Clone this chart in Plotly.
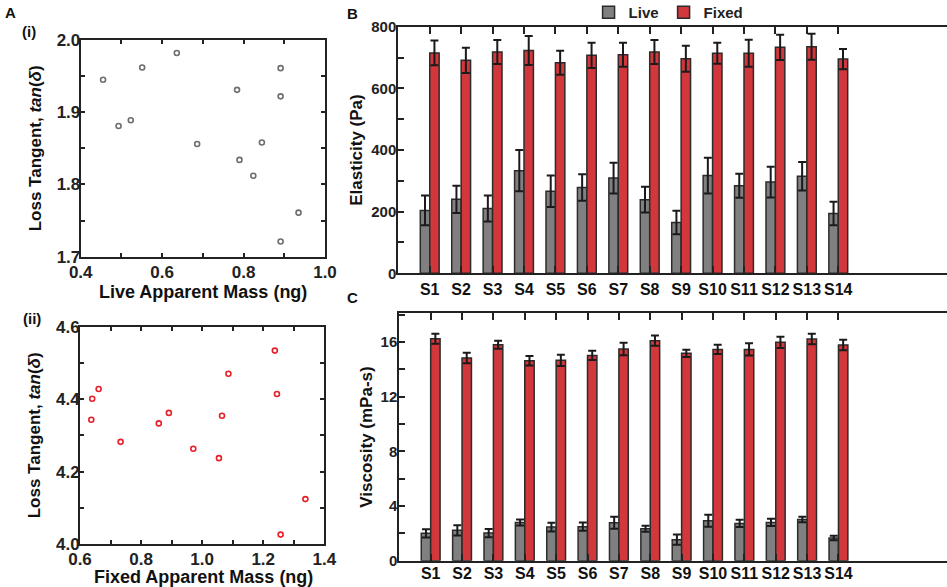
import plotly.graph_objects as go

# ---------------- data ----------------
live_mass = [0.455, 0.493, 0.523, 0.551, 0.636, 0.686, 0.784, 0.790, 0.824, 0.845, 0.891, 0.891, 0.935, 0.891]
live_tan = [1.945, 1.881, 1.889, 1.962, 1.982, 1.856, 1.931, 1.834, 1.812, 1.858, 1.961, 1.922, 1.761, 1.721]

fixed_mass = [0.637, 0.640, 0.661, 0.733, 0.858, 0.891, 0.971, 1.055, 1.065, 1.086, 1.238, 1.245, 1.257, 1.338]
fixed_tan = [4.343, 4.401, 4.428, 4.282, 4.333, 4.362, 4.263, 4.237, 4.354, 4.470, 4.534, 4.414, 4.026, 4.124]

samples = ["S1", "S2", "S3", "S4", "S5", "S6", "S7", "S8", "S9", "S10", "S11", "S12", "S13", "S14"]

elast_live = [204, 240, 210, 333, 266, 278, 309, 239, 165, 317, 284, 296, 315, 194]
elast_live_err = [48, 44, 42, 67, 51, 43, 50, 42, 38, 58, 39, 50, 46, 38]
elast_fixed = [715, 691, 718, 723, 683, 707, 709, 718, 696, 714, 714, 733, 735, 695]
elast_fixed_err = [40, 41, 39, 47, 39, 41, 39, 39, 42, 34, 44, 41, 42, 33]

visc_live = [2.0, 2.22, 2.02, 2.80, 2.46, 2.49, 2.78, 2.34, 1.54, 2.93, 2.73, 2.80, 3.02, 1.66]
visc_live_err = [0.3, 0.37, 0.3, 0.22, 0.32, 0.3, 0.44, 0.22, 0.37, 0.44, 0.27, 0.27, 0.2, 0.17]
visc_fixed = [16.24, 14.83, 15.80, 14.63, 14.66, 15.02, 15.49, 16.10, 15.17, 15.46, 15.46, 15.98, 16.22, 15.78]
visc_fixed_err = [0.37, 0.39, 0.3, 0.34, 0.41, 0.34, 0.46, 0.37, 0.27, 0.34, 0.44, 0.41, 0.39, 0.39]

# ---------------- style ----------------
FONT = "Liberation Sans, Arial, Helvetica, sans-serif"
AX = "#222222"
GRAY = "#808080"
RED = "#d1373b"
OUTLINE = "#2b2b2b"

W, H = 947, 587


def xdom(x0, x1):
    return [x0 / W, min(x1 / W, 1.0)]


def ydom(top, bottom):
    return [(H - bottom) / H, (H - top) / H]


fig = go.Figure()

# Panel A(i)
fig.add_trace(go.Scatter(
    x=live_mass, y=live_tan, mode="markers", showlegend=False,
    marker=dict(symbol="circle-open", size=5, color="#6e6e6e", line=dict(width=1.6)),
    xaxis="x", yaxis="y"))

# Panel A(ii)
fig.add_trace(go.Scatter(
    x=fixed_mass, y=fixed_tan, mode="markers", showlegend=False,
    marker=dict(symbol="circle-open", size=5, color="#e8202a", line=dict(width=1.6)),
    xaxis="x2", yaxis="y2"))

# Panel B
err_style = dict(type="data", color="#1a1a1a", thickness=2, width=4)
fig.add_trace(go.Bar(
    x=samples, y=elast_live, name="Live", marker=dict(color=GRAY, line=dict(color=OUTLINE, width=1.5)),
    error_y=dict(array=elast_live_err, **err_style), xaxis="x3", yaxis="y3", legendgroup="live"))
fig.add_trace(go.Bar(
    x=samples, y=elast_fixed, name="Fixed", marker=dict(color=RED, line=dict(color=OUTLINE, width=1.5)),
    error_y=dict(array=elast_fixed_err, **err_style), xaxis="x3", yaxis="y3", legendgroup="fixed"))

# Panel C
fig.add_trace(go.Bar(
    x=samples, y=visc_live, name="Live", showlegend=False,
    marker=dict(color=GRAY, line=dict(color=OUTLINE, width=1.5)),
    error_y=dict(array=visc_live_err, **err_style), xaxis="x4", yaxis="y4", legendgroup="live"))
fig.add_trace(go.Bar(
    x=samples, y=visc_fixed, name="Fixed", showlegend=False,
    marker=dict(color=RED, line=dict(color=OUTLINE, width=1.5)),
    error_y=dict(array=visc_fixed_err, **err_style), xaxis="x4", yaxis="y4", legendgroup="fixed"))

tickfont_a = dict(family=FONT, size=17, color="#222222", weight="bold")
tickfont_b = dict(family=FONT, size=15, color="#222222", weight="bold")
catfont = dict(family=FONT, size=16, color="#111111", weight="bold")
titlefont = dict(family=FONT, size=17, color="#111111", weight="bold")
xtitlefont = dict(family=FONT, size=18, color="#111111", weight="bold")


def scatter_axis(dom, rng, dtick, minor, anchor, title=None, standoff=0, lblshift=0):
    d = dict(domain=dom, range=rng, dtick=dtick, tick0=rng[0], tickformat=".1f",
             showline=True, linecolor=AX, linewidth=2, mirror="ticks",
             ticks="inside", ticklen=4, tickwidth=1.5, tickcolor=AX,
             minor=dict(dtick=minor, tick0=rng[0], ticks="inside", ticklen=4, tickwidth=1.5, tickcolor=AX),
             showgrid=False, zeroline=False, tickfont=tickfont_a, anchor=anchor, automargin=False,
             ticklabelstandoff=lblshift)
    if title:
        d["title"] = dict(text=title, font=titlefont, standoff=standoff)
    return d


def cat_axis(dom, anchor, lblshift=0):
    return dict(domain=dom, range=[-1.0, 16.46], anchor=anchor, automargin=False,
                showline=True, linecolor=AX, linewidth=2, mirror="ticks",
                ticks="inside", ticklen=7, tickwidth=2, tickcolor=AX, ticklabelstandoff=lblshift,
                tickangle=0, tickfont=catfont, showgrid=False, zeroline=False)


def bar_yaxis(dom, anchor, rng, dtick, minor, title):
    return dict(domain=dom, range=rng, dtick=dtick, anchor=anchor, automargin=False,
                showline=True, linecolor=AX, linewidth=2, mirror=False,
                ticks="inside", ticklen=6, tickwidth=1.5, tickcolor=AX,
                minor=dict(dtick=minor, ticks="inside", ticklen=6, tickwidth=1.5, tickcolor=AX),
                tickfont=tickfont_b, showgrid=False, zeroline=False, ticklabelstandoff=-3,
                title=dict(text=title, font=titlefont, standoff=4))


TAN_TITLE = "Loss Tangent, <i>tan</i>(<i>δ</i>)"

fig.update_layout(
    width=W, height=H,
    margin=dict(l=0, r=0, t=0, b=0, autoexpand=False),
    paper_bgcolor="white", plot_bgcolor="white",
    barmode="group", bargap=0.4, bargroupgap=0,
    font=dict(family=FONT),
    xaxis=scatter_axis(xdom(80.7, 325), [0.4, 1.0], 0.2, 0.1, "y", lblshift=-1),
    yaxis=scatter_axis(ydom(40, 256.7), [1.7, 2.0], 0.1, 0.05, "x", TAN_TITLE, 11, -5),
    xaxis2=scatter_axis(xdom(80, 324.3), [0.6, 1.4], 0.2, 0.1, "y2", lblshift=-1),
    yaxis2=scatter_axis(ydom(326.7, 544), [4.0, 4.6], 0.2, 0.1, "x2", TAN_TITLE, 11, -5),
    xaxis3=cat_axis(xdom(398.3, 947), "y3"),
    yaxis3=bar_yaxis(ydom(26.7, 273.3), "x3", [0, 800], 200, 100, "Elasticity (Pa)"),
    xaxis4=cat_axis(xdom(399.3, 947), "y4", -3),
    yaxis4=bar_yaxis(ydom(313.3, 560.7), "x4", [0, 18.1], 4, 2, "Viscosity (mPa-s)"),
    legend=dict(orientation="h", x=0.706, xanchor="center", y=1.007, yanchor="top",
                font=dict(family=FONT, size=15, color="#222222", weight="bold"),
                bgcolor="rgba(0,0,0,0)", itemwidth=30, traceorder="normal"),
)

# x-axis titles of panel A, placed just under the tick labels as in the original
for txt, xc, yc in [("Live Apparent Mass (ng)", 203, 291.5), ("Fixed Apparent Mass (ng)", 203, 577)]:
    fig.add_annotation(text=txt, x=xc / W, y=(H - yc) / H, xref="paper", yref="paper",
                       showarrow=False, xanchor="center", yanchor="middle", font=xtitlefont,
                       borderpad=0)

panel_font = dict(family=FONT, size=15, color="#111111", weight="bold")
for txt, x, y in [("A", 10, 12), ("(i)", 29, 31), ("(ii)", 32, 318), ("B", 352, 13), ("C", 352, 298)]:
    fig.add_annotation(text=txt, x=x / W, y=(H - y) / H, xref="paper", yref="paper",
                       showarrow=False, xanchor="center", yanchor="middle", font=panel_font)

fig.write_html("out.html", config={"displayModeBar": False},
               post_script="document.body.style.margin='0px';document.body.style.overflow='hidden';")
